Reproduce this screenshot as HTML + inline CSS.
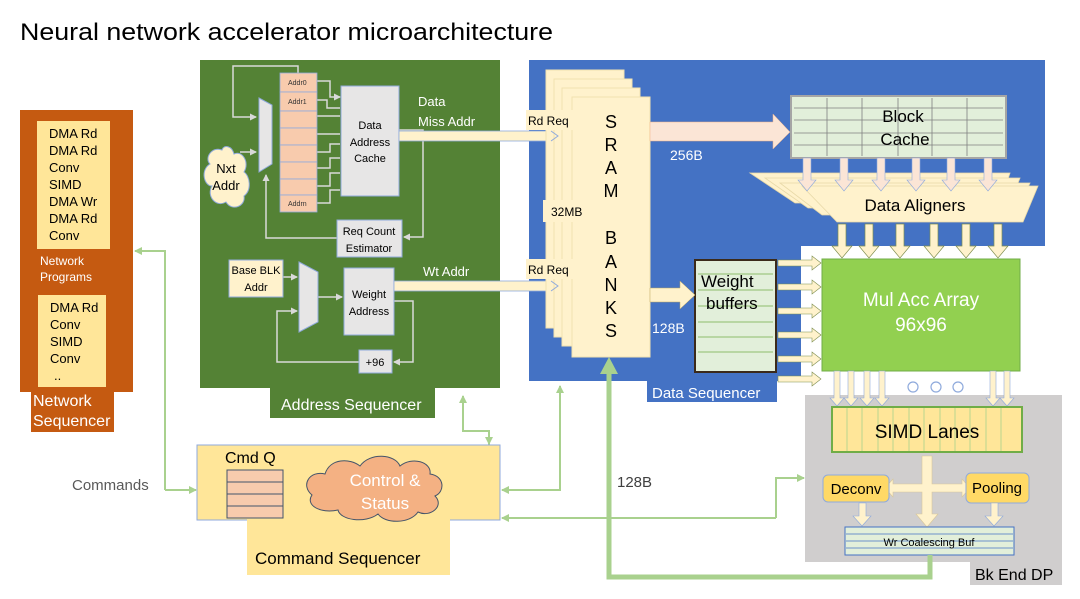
<!DOCTYPE html>
<html><head><meta charset="utf-8"><style>
html,body{margin:0;padding:0;background:#fff;}
svg{display:block;font-family:"Liberation Sans",sans-serif;}
</style></head><body>
<svg width="1080" height="599" viewBox="0 0 1080 599" xmlns="http://www.w3.org/2000/svg">
<defs>
<marker id="ga" markerWidth="8" markerHeight="8" refX="7" refY="4" orient="auto" markerUnits="userSpaceOnUse"><path d="M0,0 L8,4 L0,8 z" fill="#a9d18e"/></marker>
<marker id="wa" markerWidth="7" markerHeight="7" refX="6" refY="3.5" orient="auto" markerUnits="userSpaceOnUse"><path d="M0,0 L7,3.5 L0,7 z" fill="#d9d9d9"/></marker>
</defs>
<text x="20" y="40" font-size="24" fill="#000" textLength="533" lengthAdjust="spacingAndGlyphs">Neural network accelerator microarchitecture</text>

<!-- Network sequencer -->
<rect x="20" y="110" width="113" height="282" fill="#c55a11"/>
<rect x="31" y="392" width="83" height="40" fill="#c55a11"/>
<text x="33" y="406" font-size="16" fill="#fff">Network</text>
<text x="33" y="426" font-size="16" fill="#fff">Sequencer</text>
<rect x="37" y="121" width="73" height="128" fill="#ffe699"/>
<g font-size="13" fill="#000">
<text x="49" y="138">DMA Rd</text><text x="49" y="155">DMA Rd</text><text x="49" y="172">Conv</text><text x="49" y="189">SIMD</text><text x="49" y="206">DMA Wr</text><text x="49" y="223">DMA Rd</text><text x="49" y="240">Conv</text>
</g>
<text x="40" y="265" font-size="12" fill="#fff">Network</text>
<text x="40" y="281" font-size="12" fill="#fff">Programs</text>
<rect x="38" y="295" width="68" height="92" fill="#ffe699"/>
<g font-size="13" fill="#000">
<text x="50" y="312">DMA Rd</text><text x="50" y="329">Conv</text><text x="50" y="346">SIMD</text><text x="50" y="363">Conv</text><text x="54" y="380">..</text>
</g>

<!-- green connectors -->
<g stroke="#a9d18e" stroke-width="2" fill="none">
<path d="M165,490 L165,251 L135,251" marker-end="url(#ga)"/>
<path d="M165,490 L196,490" marker-end="url(#ga)"/>
<path d="M489,445 L489,431 L463,431 L463,396" marker-end="url(#ga)"/>
<path d="M489,431 L489,444" marker-end="url(#ga)"/>
<path d="M560,388 L560,490 L502,490" marker-end="url(#ga)"/>
<path d="M560,490 L560,386" marker-end="url(#ga)"/>
<path d="M776,518 L502,518" marker-end="url(#ga)"/>
<path d="M776,518 L776,478 L804,478" marker-end="url(#ga)"/>
</g>
<text x="72" y="490" font-size="15" fill="#595959">Commands</text>
<text x="617" y="487" font-size="15" fill="#404040">128B</text>

<!-- Command sequencer -->
<rect x="197" y="445" width="303" height="75" fill="#ffe699" stroke="#8faadc" stroke-width="1"/>
<rect x="247" y="519" width="203" height="56" fill="#ffe699"/>
<text x="255" y="564" font-size="17" fill="#000">Command Sequencer</text>
<text x="225" y="463" font-size="16" fill="#000">Cmd Q</text>
<g fill="#f8cbad" stroke="#44546a" stroke-width="1">
<rect x="227" y="470" width="56" height="12"/><rect x="227" y="482" width="56" height="12"/><rect x="227" y="494" width="56" height="12"/><rect x="227" y="506" width="56" height="12"/>
</g>
<path d="M312,495 C300,485 310,470 325,474 C330,458 350,458 360,466 C370,452 395,454 400,466 C412,456 432,462 430,474 C445,476 445,492 435,496 C445,506 430,518 418,512 C410,524 385,524 378,514 C365,524 340,520 338,510 C320,514 305,505 312,495 Z" fill="#f4b183" stroke="#44546a" stroke-width="1"/>
<text x="385" y="486" font-size="17" fill="#fff" text-anchor="middle">Control &amp;</text>
<text x="385" y="509" font-size="17" fill="#fff" text-anchor="middle">Status</text>

<!-- Address sequencer -->
<rect x="200" y="60" width="300" height="328" fill="#548235"/>
<rect x="270" y="386" width="165" height="32" fill="#548235"/>
<text x="281" y="410" font-size="16" fill="#fff">Address Sequencer</text>
<g stroke="#d9d9d9" stroke-width="1.5" fill="none">
<path d="M298,73 L298,66 L233,66 L233,117 L256,117" marker-end="url(#wa)"/>
<path d="M240,152 L256,152" marker-end="url(#wa)"/>
<path d="M337,238 L266,238 L266,175" marker-end="url(#wa)"/>
<path d="M399,130 L423,130 L423,237 L404,237" marker-end="url(#wa)"/>
<path d="M317,81 L330,81 L330,97 L340,97" marker-end="url(#wa)"/>
<path d="M317,100 L327,100 L327,108 L340,108"/>
<path d="M317,116 L340,116"/>
<path d="M317,134 L340,134"/>
<path d="M317,152 L330,152 L330,144 L340,144"/>
<path d="M317,168 L330,168 L330,158 L340,158"/>
<path d="M317,186 L330,186 L330,173 L340,173"/>
<path d="M317,203 L330,203 L330,190 L340,190"/>
<path d="M283,277 L297,277" marker-end="url(#wa)"/>
<path d="M318,297 L342,297" marker-end="url(#wa)"/>
<path d="M394,301 L413,301 L413,362 L394,362" marker-end="url(#wa)"/>
<path d="M359,362 L277,362 L277,311 L297,311" marker-end="url(#wa)"/>
</g>
<g fill="#f8cbad" stroke="#8faadc" stroke-width="0.8">
<rect x="280" y="73" width="37" height="19"/><rect x="280" y="92" width="37" height="19"/><rect x="280" y="111" width="37" height="17"/><rect x="280" y="128" width="37" height="17"/><rect x="280" y="145" width="37" height="17"/><rect x="280" y="162" width="37" height="17"/><rect x="280" y="179" width="37" height="16"/><rect x="280" y="195" width="37" height="17"/>
</g>
<g font-size="7" fill="#333"><text x="288" y="85">Addr0</text><text x="288" y="104">Addr1</text><text x="288" y="206">Addrn</text></g>
<path d="M259,98 L272,105 L272,164 L259,172 Z" fill="#e7e6e6" stroke="#8faadc"/>
<path d="M222,150 C212,146 204,158 210,164 C200,170 204,186 212,186 C206,196 216,208 226,202 C232,212 246,206 244,196 C252,190 250,176 244,172 C250,162 242,150 234,154 C232,146 224,144 222,150 Z" fill="#fff2cc" stroke="#8faadc"/>
<text x="226" y="173" font-size="13" fill="#000" text-anchor="middle">Nxt</text>
<text x="226" y="190" font-size="13" fill="#000" text-anchor="middle">Addr</text>
<rect x="341" y="86" width="58" height="110" fill="#e7e6e6" stroke="#8faadc"/>
<g font-size="11" fill="#000" text-anchor="middle"><text x="370" y="129">Data</text><text x="370" y="146">Address</text><text x="370" y="162">Cache</text></g>
<rect x="337" y="220" width="65" height="37" fill="#e7e6e6" stroke="#8faadc"/>
<g font-size="11" fill="#000" text-anchor="middle"><text x="369" y="235">Req Count</text><text x="369" y="252">Estimator</text></g>
<rect x="229" y="260" width="54" height="37" fill="#fff2cc" stroke="#8faadc"/>
<g font-size="11" fill="#000" text-anchor="middle"><text x="256" y="274">Base BLK</text><text x="256" y="291">Addr</text></g>
<path d="M299,262 L318,272 L318,322 L299,332 Z" fill="#e7e6e6" stroke="#8faadc"/>
<rect x="344" y="268" width="50" height="67" fill="#e7e6e6" stroke="#8faadc"/>
<g font-size="11" fill="#000" text-anchor="middle"><text x="369" y="298">Weight</text><text x="369" y="315">Address</text></g>
<rect x="359" y="350" width="33" height="23" fill="#e7e6e6" stroke="#8faadc"/>
<text x="375" y="366" font-size="11" fill="#000" text-anchor="middle">+96</text>
<text x="418" y="106" font-size="13" fill="#fff">Data</text>
<text x="418" y="126" font-size="13" fill="#fff">Miss Addr</text>
<text x="423" y="276" font-size="13" fill="#fff">Wt Addr</text>

<!-- Data sequencer -->
<path d="M529,60 L1045,60 L1045,246 L801,246 L801,381 L529,381 Z" fill="#4472c4"/>
<rect x="647" y="380" width="130" height="22" fill="#4472c4"/>
<text x="652" y="398" font-size="15" fill="#fff">Data Sequencer</text>
<rect x="399" y="131" width="160" height="10" fill="#fff2cc" stroke="#8faadc" stroke-width="0.8"/>
<rect x="394" y="281" width="165" height="10" fill="#fff2cc" stroke="#8faadc" stroke-width="0.8"/>
<g fill="#fff2cc" stroke="#f2e1b0" stroke-width="1">
<rect x="546" y="70" width="78" height="258"/>
<rect x="554" y="79" width="78" height="258"/>
<rect x="562" y="88" width="78" height="258"/>
<rect x="572" y="97" width="78" height="260"/>
</g>
<path d="M551,131 L558,136 L551,141" fill="none" stroke="#8faadc"/>
<path d="M551,281 L558,286 L551,291" fill="none" stroke="#8faadc"/>
<rect x="526" y="110" width="48" height="20" fill="#fff2cc"/>
<text x="528" y="125" font-size="12" fill="#000">Rd Req</text>
<rect x="526" y="259" width="48" height="20" fill="#fff2cc"/>
<text x="528" y="274" font-size="12" fill="#000">Rd Req</text>
<rect x="543" y="200" width="48" height="22" fill="#fff2cc"/>
<text x="551" y="216" font-size="12" fill="#000">32MB</text>
<g font-size="18" fill="#000" text-anchor="middle">
<text x="611" y="128">S</text><text x="611" y="151">R</text><text x="611" y="174">A</text><text x="611" y="197">M</text>
<text x="611" y="244">B</text><text x="611" y="268">A</text><text x="611" y="291">N</text><text x="611" y="314">K</text><text x="611" y="337">S</text>
</g>
<path d="M650,122 L773,122 L773,114 L790,132 L773,149 L773,141 L650,141 Z" fill="#fbe5d6" stroke="#f4b183" stroke-width="0.5"/>
<text x="670" y="160" font-size="14" fill="#fff">256B</text>
<rect x="791" y="96" width="215" height="62" fill="#e2efda" stroke="#a5a5a5" stroke-width="2"/>
<g stroke="#7f7f7f" stroke-width="0.8">
<line x1="794" y1="108" x2="1003" y2="108"/><line x1="794" y1="120" x2="1003" y2="120"/><line x1="794" y1="133" x2="1003" y2="133"/><line x1="794" y1="145" x2="1003" y2="145"/>
<line x1="827" y1="98" x2="827" y2="156"/><line x1="862" y1="98" x2="862" y2="156"/><line x1="898" y1="98" x2="898" y2="156"/><line x1="932" y1="98" x2="932" y2="156"/><line x1="967" y1="98" x2="967" y2="156"/>
</g>
<text x="903" y="122" font-size="17" fill="#000" text-anchor="middle">Block</text>
<text x="905" y="145" font-size="17" fill="#000" text-anchor="middle">Cache</text>
<g fill="#fff2cc" stroke="#e8d9a8" stroke-width="0.8">
<path d="M750,173 L1010,173 L1000,203 L795,203 Z"/>
<path d="M765,178 L1020,178 L1008,208 L808,208 Z"/>
<path d="M780,183 L1030,183 L1015,215 L822,215 Z"/>
<path d="M802,186 L1038,186 L1023,222 L837,222 Z"/>
</g>
<g fill="#fbe5d6" stroke="#8faadc" stroke-width="0.6">
<path d="M803,158 L811,158 L811,180 L816,180 L807,191 L798,180 L803,180 Z"/>
<path d="M840,158 L848,158 L848,180 L853,180 L844,191 L835,180 L840,180 Z"/>
<path d="M877,158 L885,158 L885,180 L890,180 L881,191 L872,180 L877,180 Z"/>
<path d="M912,158 L920,158 L920,180 L925,180 L916,191 L907,180 L912,180 Z"/>
<path d="M947,158 L955,158 L955,180 L960,180 L951,191 L942,180 L947,180 Z"/>
<path d="M984,158 L992,158 L992,180 L997,180 L988,191 L979,180 L984,180 Z"/>
</g>
<text x="915" y="211" font-size="17" fill="#000" text-anchor="middle">Data Aligners</text>
<g fill="#fff2cc" stroke="#7f8f4f" stroke-width="0.7">
<path d="M838,224 L846,224 L846,246 L852,246 L842,258 L832,246 L838,246 Z"/>
<path d="M865,224 L873,224 L873,246 L879,246 L869,258 L859,246 L865,246 Z"/>
<path d="M896,224 L904,224 L904,246 L910,246 L900,258 L890,246 L896,246 Z"/>
<path d="M930,224 L938,224 L938,246 L944,246 L934,258 L924,246 L930,246 Z"/>
<path d="M962,224 L970,224 L970,246 L976,246 L966,258 L956,246 L962,246 Z"/>
<path d="M994,224 L1002,224 L1002,246 L1008,246 L998,258 L988,246 L994,246 Z"/>
</g>
<rect x="822" y="259" width="198" height="112" fill="#92d050" stroke="#70ad47"/>
<text x="921" y="306" font-size="19" fill="#fff" text-anchor="middle">Mul Acc Array</text>
<text x="921" y="331" font-size="19" fill="#fff" text-anchor="middle">96x96</text>
<rect x="695" y="260" width="81" height="112" fill="#e2efda" stroke="#3b2a1a" stroke-width="2"/>
<g stroke="#70ad47" stroke-width="0.8">
<line x1="698" y1="274" x2="773" y2="274"/><line x1="698" y1="290" x2="773" y2="290"/><line x1="698" y1="306" x2="773" y2="306"/><line x1="698" y1="322" x2="773" y2="322"/><line x1="698" y1="337" x2="773" y2="337"/><line x1="698" y1="352" x2="773" y2="352"/>
</g>
<text x="701" y="287" font-size="17" fill="#000">Weight</text>
<text x="706" y="309" font-size="17" fill="#000">buffers</text>
<path d="M650,288 L680,288 L680,281 L695,295 L680,309 L680,302 L650,302 Z" fill="#fff2cc" stroke="#bfa760" stroke-width="0.5"/>
<text x="652" y="333" font-size="14" fill="#fff">128B</text>
<g fill="#fff2cc" stroke="#7f8f4f" stroke-width="0.6">
<path d="M778,260 L812,260 L812,256 L821,263 L812,270 L812,266 L778,266 Z"/>
<path d="M778,284 L812,284 L812,280 L821,287 L812,294 L812,290 L778,290 Z"/>
<path d="M778,308 L812,308 L812,304 L821,311 L812,318 L812,314 L778,314 Z"/>
<path d="M778,332 L812,332 L812,328 L821,335 L812,342 L812,338 L778,338 Z"/>
<path d="M778,356 L812,356 L812,352 L821,359 L812,366 L812,362 L778,362 Z"/>
<path d="M778,376 L812,376 L812,372 L821,379 L812,386 L812,382 L778,382 Z"/>
</g>
<rect x="805" y="395" width="257" height="167" fill="#d0cece"/>
<rect x="970" y="560" width="92" height="25" fill="#d0cece"/>
<text x="975" y="580" font-size="16" fill="#000">Bk End DP</text>
<g fill="none" stroke="#8faadc" stroke-width="1.2"><circle cx="913" cy="387" r="5"/><circle cx="936" cy="387" r="5"/><circle cx="958" cy="387" r="5"/></g>
<g fill="#fff2cc" stroke="#8faadc" stroke-width="0.6">
<path d="M834,371 L840,371 L840,398 L844,398 L837,406 L830,398 L834,398 Z"/>
<path d="M848,371 L854,371 L854,398 L858,398 L851,406 L844,398 L848,398 Z"/>
<path d="M864,371 L870,371 L870,398 L874,398 L867,406 L860,398 L864,398 Z"/>
<path d="M879,371 L885,371 L885,398 L889,398 L882,406 L875,398 L879,398 Z"/>
<path d="M990,371 L996,371 L996,398 L1000,398 L993,406 L986,398 L990,398 Z"/>
<path d="M1004,371 L1010,371 L1010,398 L1014,398 L1007,406 L1000,398 L1004,398 Z"/>
</g>
<rect x="832" y="407" width="190" height="45" fill="#ffe699" stroke="#70ad47" stroke-width="2"/>
<g stroke="#a9d18e" stroke-width="0.8">
<line x1="847" y1="408" x2="847" y2="451"/><line x1="862" y1="408" x2="862" y2="451"/><line x1="878" y1="408" x2="878" y2="451"/><line x1="893" y1="408" x2="893" y2="451"/><line x1="909" y1="408" x2="909" y2="451"/><line x1="924" y1="408" x2="924" y2="451"/><line x1="940" y1="408" x2="940" y2="451"/><line x1="955" y1="408" x2="955" y2="451"/><line x1="970" y1="408" x2="970" y2="451"/><line x1="986" y1="408" x2="986" y2="451"/><line x1="1001" y1="408" x2="1001" y2="451"/>
</g>
<text x="927" y="438" font-size="19" fill="#000" text-anchor="middle">SIMD Lanes</text>
<path d="M922,456 L932,456 L932,484 L962,484 L962,479 L970,488 L962,497 L962,492 L932,492 L932,514 L938,514 L927,527 L916,514 L922,514 L922,492 L893,492 L893,497 L885,488 L893,479 L893,484 L922,484 Z" fill="#fff2cc" stroke="#d9c79a" stroke-width="0.6"/>
<rect x="823" y="475" width="66" height="27" rx="5" fill="#ffd966" stroke="#8faadc"/>
<text x="856" y="494" font-size="15" fill="#000" text-anchor="middle">Deconv</text>
<rect x="966" y="473" width="63" height="30" rx="5" fill="#ffd966" stroke="#8faadc"/>
<text x="997" y="493" font-size="15" fill="#000" text-anchor="middle">Pooling</text>
<path d="M859,503 L866,503 L866,516 L871,516 L862,526 L853,516 L859,516 Z" fill="#fff2cc" stroke="#8faadc" stroke-width="0.6"/>
<path d="M991,503 L998,503 L998,516 L1003,516 L994,526 L985,516 L991,516 Z" fill="#fff2cc" stroke="#8faadc" stroke-width="0.6"/>
<rect x="845" y="527" width="169" height="28" fill="#e2efda" stroke="#4472c4" stroke-width="1"/>
<g stroke="#4472c4" stroke-width="0.7"><line x1="846" y1="534" x2="1013" y2="534"/><line x1="846" y1="541" x2="1013" y2="541"/><line x1="846" y1="548" x2="1013" y2="548"/></g>
<text x="929" y="546" font-size="11" fill="#000" text-anchor="middle">Wr Coalescing Buf</text>
<path d="M930,555 L930,577 L609,577 L609,372" fill="none" stroke="#a9d18e" stroke-width="5"/>
<path d="M600,374 L609,357 L618,374 Z" fill="#a9d18e"/>
</svg>
</body></html>
